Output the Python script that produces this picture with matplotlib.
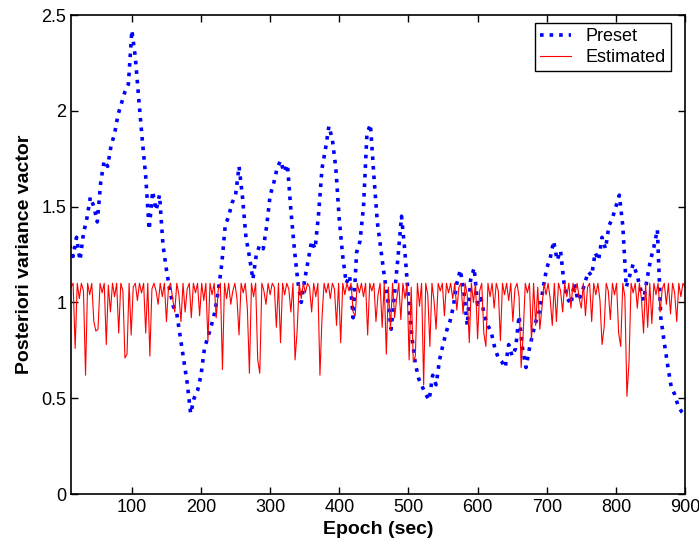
import numpy as np
import matplotlib
matplotlib.use("Agg")
import matplotlib.pyplot as plt

plt.rcParams['font.family'] = ['Liberation Sans', 'DejaVu Sans']

# Preset posteriori variance, read every 5 s starting at epoch 10
preset = [
	1.30, 1.24, 1.34, 1.22, 1.36, 1.44, 1.55, 1.50, 1.42, 1.63,
	1.74, 1.71, 1.82, 1.88, 1.98, 2.04, 2.10, 2.14, 2.42, 2.28,
	2.06, 1.85, 1.66, 1.38, 1.58, 1.48, 1.56, 1.30, 1.17, 1.06,
	0.98, 0.94, 0.82, 0.70, 0.58, 0.42, 0.50, 0.54, 0.62, 0.76,
	0.82, 0.88, 0.95, 1.06, 1.20, 1.40, 1.45, 1.52, 1.56, 1.71,
	1.55, 1.34, 1.24, 1.12, 1.25, 1.30, 1.28, 1.40, 1.56, 1.62,
	1.70, 1.74, 1.68, 1.72, 1.48, 1.28, 1.11, 1.00, 1.12, 1.22,
	1.32, 1.28, 1.46, 1.70, 1.80, 1.92, 1.85, 1.70, 1.43, 1.24,
	1.10, 1.14, 0.92, 1.26, 1.32, 1.50, 1.88, 1.93, 1.66, 1.42,
	1.28, 1.14, 1.02, 0.86, 1.05, 1.24, 1.45, 1.26, 1.02, 0.82,
	0.68, 0.60, 0.56, 0.52, 0.49, 0.62, 0.57, 0.70, 0.78, 0.85,
	0.90, 0.98, 1.10, 1.17, 1.06, 0.88, 1.12, 1.18, 0.99, 1.02,
	0.93, 0.88, 0.84, 0.76, 0.71, 0.69, 0.66, 0.78, 0.72, 0.76,
	0.93, 0.76, 0.66, 0.76, 0.84, 0.91, 0.96, 1.08, 1.18, 1.23,
	1.32, 1.22, 1.27, 1.10, 1.02, 0.99, 1.10, 1.01, 1.04, 1.10,
	1.16, 1.14, 1.26, 1.22, 1.34, 1.28, 1.40, 1.44, 1.50, 1.56,
	1.40, 1.08, 1.14, 1.20, 1.15, 1.08, 1.01, 1.12, 1.22, 1.29,
	1.38, 0.92, 0.79, 0.67, 0.56, 0.52, 0.46, 0.43, 0.41,
]

# Estimated posteriori variance, read every 3 s starting at epoch 12
estimated = [
	1.08, 1.10, 0.76, 1.10, 1.02, 1.10, 1.06, 0.62, 1.10, 1.04, 1.10, 0.90, 0.85, 0.86, 1.10, 1.05, 1.10, 0.78, 1.09, 0.95,
	1.10, 1.03, 1.10, 0.84, 1.10, 1.06, 0.71, 0.73, 1.10, 0.83, 1.08, 1.10, 1.01, 1.10, 1.05, 1.10, 0.84, 1.10, 0.72, 1.07,
	1.10, 1.06, 0.99, 1.10, 1.03, 1.10, 0.90, 1.08, 1.10, 1.02, 0.95, 1.10, 1.04, 0.90, 1.10, 0.95, 1.07, 1.10, 0.92, 1.10,
	1.05, 1.10, 0.93, 1.10, 1.01, 1.10, 0.80, 1.10, 1.04, 1.10, 0.92, 1.07, 1.10, 0.65, 1.10, 1.02, 1.10, 0.99, 1.06, 1.10,
	1.02, 0.83, 1.10, 1.05, 1.10, 0.97, 0.63, 1.10, 1.03, 1.10, 0.70, 0.63, 1.10, 1.06, 0.99, 1.10, 1.04, 1.10, 1.08, 0.87,
	1.10, 0.79, 1.10, 1.04, 1.10, 1.07, 0.95, 1.10, 0.70, 0.85, 1.10, 1.02, 1.10, 1.05, 1.10, 1.08, 0.95, 1.10, 1.03, 1.10,
	0.62, 0.92, 1.10, 1.05, 1.10, 1.02, 1.10, 1.07, 0.88, 1.10, 0.79, 1.10, 1.04, 1.10, 1.06, 1.10, 0.95, 0.93, 1.10, 1.05,
	1.10, 1.03, 1.10, 0.83, 1.10, 1.06, 1.10, 0.90, 1.04, 1.10, 0.87, 1.10, 0.73, 1.08, 0.86, 1.10, 0.92, 1.02, 1.10, 0.91,
	1.10, 1.02, 1.10, 0.70, 1.08, 0.69, 0.72, 1.10, 0.98, 1.10, 0.57, 1.10, 1.04, 0.77, 1.10, 1.01, 0.86, 1.10, 1.06, 1.10,
	0.93, 1.10, 1.05, 1.10, 1.02, 1.10, 0.96, 1.08, 1.10, 0.94, 1.10, 1.04, 0.79, 1.10, 1.00, 1.10, 0.81, 1.06, 1.10, 0.84,
	0.77, 1.10, 1.03, 1.10, 0.97, 1.10, 1.06, 0.80, 1.10, 1.04, 1.10, 1.01, 1.10, 0.90, 1.07, 1.10, 1.03, 0.66, 0.84, 1.10,
	1.05, 1.10, 0.80, 1.10, 0.88, 1.08, 0.86, 0.97, 1.10, 1.04, 1.10, 1.02, 0.88, 1.10, 0.90, 1.10, 1.06, 0.95, 1.10, 1.03,
	1.10, 0.97, 1.10, 1.05, 1.10, 1.02, 0.97, 1.10, 0.93, 1.08, 1.10, 0.90, 1.10, 1.04, 1.10, 1.01, 0.78, 0.87, 1.10, 1.06,
	0.91, 1.10, 1.04, 1.10, 0.84, 0.77, 1.10, 1.03, 0.51, 0.69, 1.10, 1.05, 1.10, 0.97, 1.10, 1.02, 0.84, 1.10, 0.87, 1.10,
	0.89, 1.10, 1.04, 1.10, 0.95, 1.07, 1.10, 0.99, 1.10, 0.94, 1.10, 1.05, 0.90, 1.10, 1.03, 1.10, 1.08,
]

xticks = [100, 200, 300, 400, 500, 600, 700, 800, 900]
yticks = [0, 0.5, 1, 1.5, 2, 2.5]
yticklabels = ["0", "0.5", "1", "1.5", "2", "2.5"]

t_preset = 10 + 5 * np.arange(len(preset))
t_est = 12 + 3 * np.arange(len(estimated))

fig = plt.figure(figsize=(6.99, 5.55), dpi=100)
ax = fig.add_axes([0.1016, 0.1099, 0.8784, 0.863])

ax.plot(t_preset, preset, ':', color=(0, 0, 1), lw=2.6, label="Preset")
ax.plot(t_est, estimated, '-', color=(1, 0, 0), lw=0.8, label="Estimated")

ax.set_xlim(12, 900)
ax.set_ylim(0, 2.5)
ax.set_xticks(xticks)
ax.set_yticks(yticks)
ax.set_yticklabels(yticklabels)
ax.tick_params(direction='in', top=True, right=True, labelsize=13, length=5, width=1)
for s in ax.spines.values():
	s.set_linewidth(1.2)

ax.set_xlabel("Epoch (sec)", fontsize=14, fontweight='bold', labelpad=4)
ax.set_ylabel("Posteriori variance vactor", fontsize=14, fontweight='bold', labelpad=6)

leg = ax.legend(loc='upper right', bbox_to_anchor=(671 / 699, 1 - 23 / 555), bbox_transform=fig.transFigure,
				borderaxespad=0, fancybox=False, edgecolor='black', framealpha=1, fontsize=13,
				handlelength=1.7, borderpad=0.3, labelspacing=0.2, handletextpad=0.8)
leg.get_frame().set_linewidth(1.0)

fig.savefig("out.png", dpi=100)
